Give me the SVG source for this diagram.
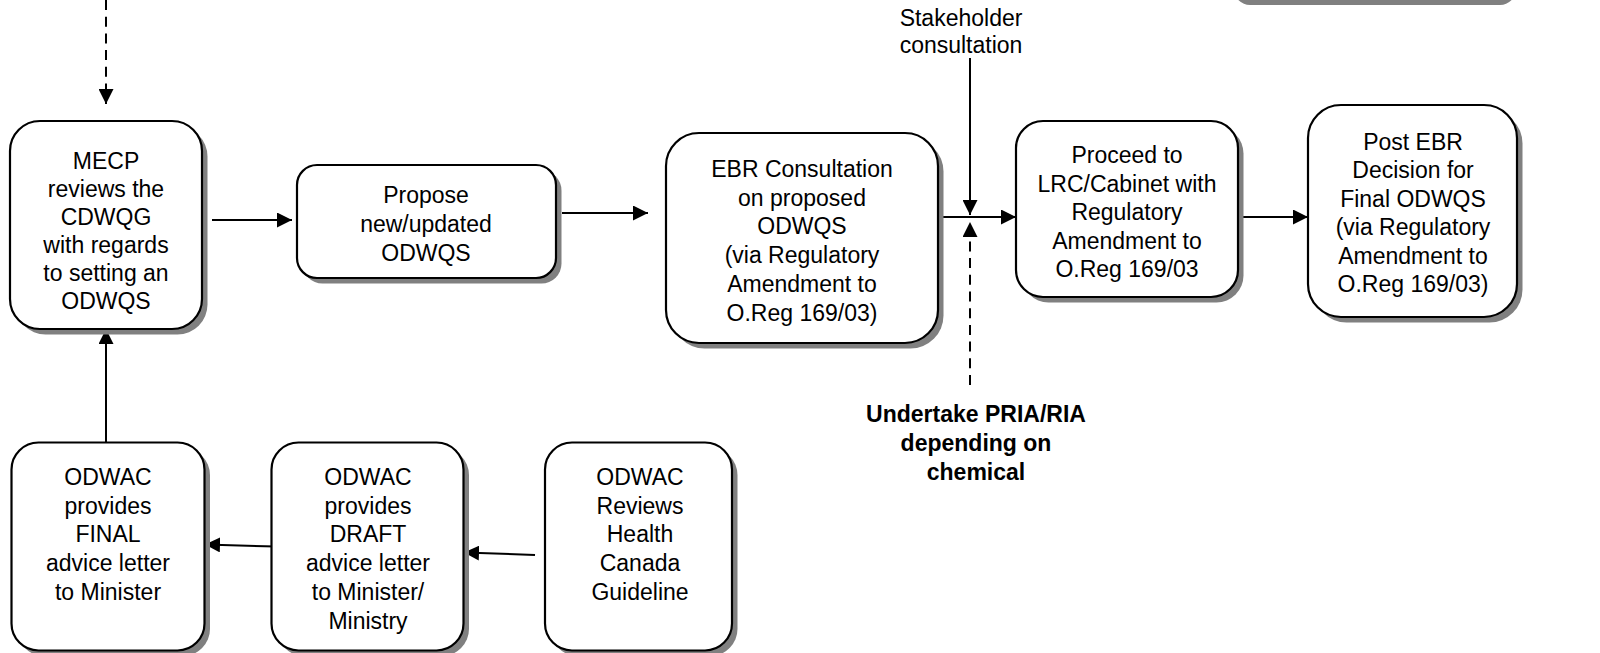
<svg xmlns="http://www.w3.org/2000/svg" width="1600" height="653" viewBox="0 0 1600 653">
<style>
.box{fill:#fff;stroke:#000;stroke-width:2.2}
.sh{fill:#808080}
.t{font-family:"Liberation Sans",Arial,sans-serif;font-size:23px;fill:#000;text-anchor:middle}
.b{font-weight:bold}
.c{fill:none;stroke:#000;stroke-width:2}
.d{stroke-dasharray:10 6.7}
</style>
<defs>
<marker id="ah" markerUnits="userSpaceOnUse" markerWidth="16" markerHeight="15" refX="15" refY="7.5" orient="auto">
<path d="M0,0 L15,7.5 L0,15 z" fill="#000"/>
</marker>
</defs>
<rect width="1600" height="653" fill="#fff"/>

<g id="node-offscreen">
<rect class="sh" x="1234" y="-60" width="282" height="65" rx="16"/>
</g>

<g id="connectors">
<path class="c d" d="M106,0 V104" marker-end="url(#ah)"/>
<path class="c" d="M212,220 H292" marker-end="url(#ah)"/>
<path class="c" d="M562,213 H648" marker-end="url(#ah)"/>
<path class="c" d="M938,217 H1016" marker-end="url(#ah)"/>
<path class="c" d="M1240,217 H1308" marker-end="url(#ah)"/>
<path class="c" d="M970,58 V215" marker-end="url(#ah)"/>
<path class="c d" d="M970,385 V222" marker-end="url(#ah)"/>
<path class="c" d="M106,442 V329" marker-end="url(#ah)"/>
<path class="c" d="M276,546.5 L205,544.5" marker-end="url(#ah)"/>
<path class="c" d="M535,555 L464,552.5" marker-end="url(#ah)"/>
</g>

<g id="node-mecp">
<rect class="sh" x="15.5" y="126.5" width="192" height="208" rx="30"/>
<rect class="box" x="10" y="121" width="192" height="208" rx="30"/>
<text class="t" x="106"><tspan x="106" y="169">MECP</tspan><tspan x="106" y="197">reviews the</tspan><tspan x="106" y="225">CDWQG</tspan><tspan x="106" y="253">with regards</tspan><tspan x="106" y="281">to setting an</tspan><tspan x="106" y="309">ODWQS</tspan></text>
</g>

<g id="node-propose">
<rect class="sh" x="302.5" y="170.5" width="259" height="113" rx="20"/>
<rect class="box" x="297" y="165" width="259" height="113" rx="20"/>
<text class="t"><tspan x="426" y="203">Propose</tspan><tspan x="426" y="232">new/updated</tspan><tspan x="426" y="261">ODWQS</tspan></text>
</g>

<g id="node-ebr">
<rect class="sh" x="671.5" y="138.5" width="272" height="210" rx="33"/>
<rect class="box" x="666" y="133" width="272" height="210" rx="33"/>
<text class="t"><tspan x="802" y="177">EBR Consultation</tspan><tspan x="802" y="205.7">on proposed</tspan><tspan x="802" y="234.4">ODWQS</tspan><tspan x="802" y="263.1">(via Regulatory</tspan><tspan x="802" y="291.8">Amendment to</tspan><tspan x="802" y="320.5">O.Reg 169/03)</tspan></text>
</g>

<g id="node-lrc">
<rect class="sh" x="1021.5" y="126.5" width="222" height="176" rx="27"/>
<rect class="box" x="1016" y="121" width="222" height="176" rx="27"/>
<text class="t"><tspan x="1127" y="163">Proceed to</tspan><tspan x="1127" y="191.5">LRC/Cabinet with</tspan><tspan x="1127" y="220">Regulatory</tspan><tspan x="1127" y="248.5">Amendment to</tspan><tspan x="1127" y="277">O.Reg 169/03</tspan></text>
</g>

<g id="node-post">
<rect class="sh" x="1313.5" y="110.5" width="209" height="212" rx="33"/>
<rect class="box" x="1308" y="105" width="209" height="212" rx="33"/>
<text class="t"><tspan x="1413" y="150">Post EBR</tspan><tspan x="1413" y="178.4">Decision for</tspan><tspan x="1413" y="206.8">Final ODWQS</tspan><tspan x="1413" y="235.2">(via Regulatory</tspan><tspan x="1413" y="263.6">Amendment to</tspan><tspan x="1413" y="292">O.Reg 169/03)</tspan></text>
</g>

<g id="label-stakeholder">
<text class="t"><tspan x="961" y="26">Stakeholder</tspan><tspan x="961" y="53">consultation</tspan></text>
</g>

<g id="label-pria">
<text class="t b"><tspan x="976" y="421.5">Undertake PRIA/RIA</tspan><tspan x="976" y="450.5">depending on</tspan><tspan x="976" y="479.5">chemical</tspan></text>
</g>

<g id="node-final">
<rect class="sh" x="17" y="448" width="193" height="208" rx="27"/>
<rect class="box" x="11.5" y="442.5" width="193" height="208" rx="27"/>
<text class="t"><tspan x="108" y="485">ODWAC</tspan><tspan x="108" y="513.7">provides</tspan><tspan x="108" y="542.4">FINAL</tspan><tspan x="108" y="571.1">advice letter</tspan><tspan x="108" y="599.8">to Minister</tspan></text>
</g>

<g id="node-draft">
<rect class="sh" x="277" y="448" width="192" height="208" rx="27"/>
<rect class="box" x="271.5" y="442.5" width="192" height="208" rx="27"/>
<text class="t"><tspan x="368" y="485">ODWAC</tspan><tspan x="368" y="513.7">provides</tspan><tspan x="368" y="542.4">DRAFT</tspan><tspan x="368" y="571.1">advice letter</tspan><tspan x="368" y="599.8">to Minister/</tspan><tspan x="368" y="628.5">Ministry</tspan></text>
</g>

<g id="node-reviews">
<rect class="sh" x="550.5" y="448" width="187" height="208" rx="27"/>
<rect class="box" x="545" y="442.5" width="187" height="208" rx="27"/>
<text class="t"><tspan x="640" y="485">ODWAC</tspan><tspan x="640" y="513.7">Reviews</tspan><tspan x="640" y="542.4">Health</tspan><tspan x="640" y="571.1">Canada</tspan><tspan x="640" y="599.8">Guideline</tspan></text>
</g>
</svg>
